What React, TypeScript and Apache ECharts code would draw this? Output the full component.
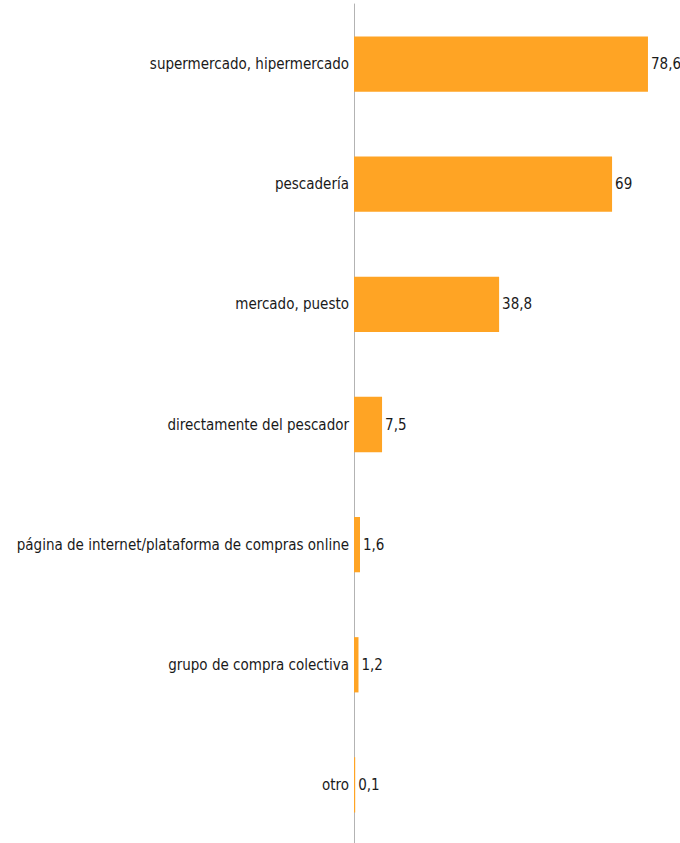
import React, { useEffect, useRef } from "react";
import * as echarts from "echarts";

const categories = [
  "supermercado, hipermercado",
  "pescadería",
  "mercado, puesto",
  "directamente del pescador",
  "página de internet/plataforma de compras online",
  "grupo de compra colectiva",
  "otro",
];
const values = [78.6, 69, 38.8, 7.5, 1.6, 1.2, 0.1];

const FONT = "'Liberation Sans Narrow', 'DejaVu Sans Condensed', sans-serif";

export default function App() {
  const ref = useRef<HTMLDivElement>(null);
  useEffect(() => {
    const chart = echarts.init(ref.current!, null, { renderer: "svg" });
    chart.setOption({
      animation: false,
      grid: {
        left: 354,
        top: 4,
        width: 299.2,
        height: 841,
        containLabel: false,
        outerBoundsMode: "none",
      },
      xAxis: {
        type: "value",
        min: 0,
        max: 80,
        show: false,
      },
      yAxis: {
        type: "category",
        inverse: true,
        data: categories,
        axisLine: { show: true, lineStyle: { color: "#b3b3b3", width: 1 } },
        axisTick: { show: false },
        axisLabel: {
          color: "#1a1a1a",
          fontFamily: FONT,
          fontSize: 15,
          margin: 5,
        },
      },
      series: [
        {
          type: "bar",
          data: values,
          barWidth: "46%",
          barMinHeight: 1.2,
          itemStyle: { color: "#FFA424" },
          z: 3,
          label: {
            show: true,
            position: "right",
            distance: 3,
            color: "#1a1a1a",
            fontFamily: FONT,
            fontSize: 15,
            formatter: (p: any) => String(p.value).replace(".", ","),
          },
        },
      ],
    });
    return () => chart.dispose();
  }, []);
  return (
    <div
      ref={ref}
      style={{ position: "fixed", left: 0, top: 0, width: 680, height: 843, background: "#fff" }}
    />
  );
}
